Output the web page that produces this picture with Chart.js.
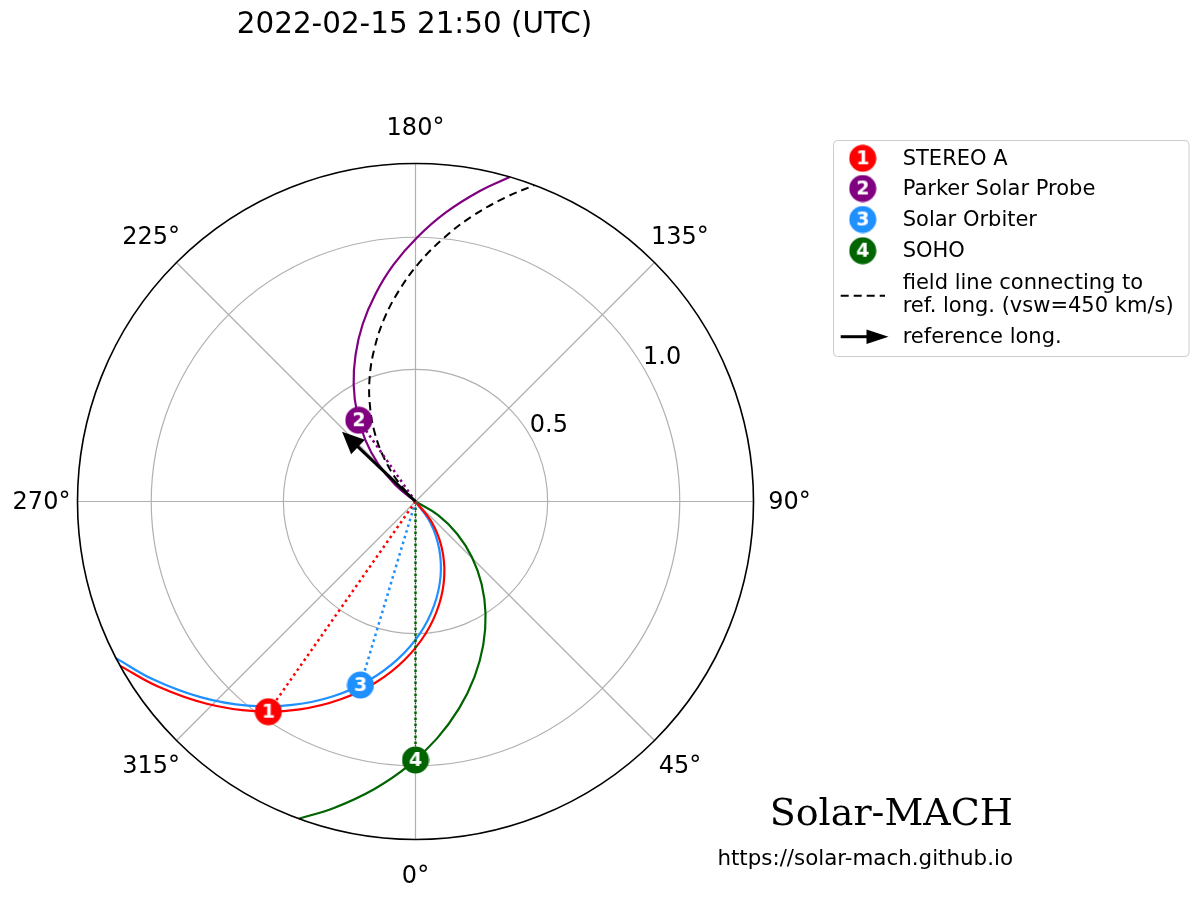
<!DOCTYPE html>
<html>
<head>
<meta charset="utf-8">
<script src="https://cdn.jsdelivr.net/npm/chart.js@4.4.1/dist/chart.umd.min.js"></script>
<style>
  html, body { margin: 0; padding: 0; background: #ffffff; }
  canvas { display: block; }
</style>
</head>
<body>
<canvas id="chart" width="1200" height="901"></canvas>
<script>
// ---------------- data ----------------
const titleText = '2022-02-15 21:50 (UTC)';
const spacecraftNames = ['STEREO A', 'Parker Solar Probe', 'Solar Orbiter', 'SOHO'];
const spacecraftNumbers = ['1', '2', '3', '4'];
const spacecraftRadius = [0.971, 0.375, 0.725, 0.978];       // AU
const spacecraftLongitude = [325.0, 214.9, 343.3, 0.0];      // deg

// sampled field lines: radius (AU) and longitude (deg) at each sample
const fieldLineRadius = [0, 0.1, 0.2, 0.3, 0.4, 0.5, 0.6, 0.7, 0.8, 0.9, 1.0, 1.1, 1.2, 1.279];
const stereoAFieldLine = [46.5, 38.1, 29.7, 21.3, 12.9, 4.5, -3.9, -12.3, -20.7, -29.1, -37.5, -45.9, -54.3, -60.9];
const pspFieldLine = [236.1, 230.5, 224.8, 219.2, 213.5, 207.9, 202.2, 196.6, 190.9, 185.3, 179.6, 174.0, 168.3, 163.8];
const solarOrbiterFieldLine = [43.1, 34.9, 26.6, 18.4, 10.1, 1.9, -6.4, -14.7, -22.9, -31.2, -39.4, -47.7, -55.9, -62.4];
const sohoFieldLine = [65.5, 58.8, 52.1, 45.4, 38.7, 32.0, 25.3, 18.6, 11.9, 5.2, -1.5, -8.2, -14.9, -20.2];
const referenceFieldLine = [226.5, 221.3, 216.0, 210.8, 205.5, 200.3, 195.0, 189.8, 184.5, 179.3, 174.0, 168.8, 163.5, 159.4];

const referenceLongitude = 226.5;
const referenceArrowLength = 0.383;

const rMax = 1.279;
const radialTicks = [0.5, 1.0];
const radialTickLabels = ['0.5', '1.0'];
const angleTicks = [0, 45, 90, 135, 180, 225, 270, 315];
const angleTickLabels = ['0°', '45°', '90°', '135°', '180°', '225°', '270°', '315°'];

const legendDashedText = ['field line connecting to', 'ref. long. (vsw=450 km/s)'];
const legendArrowText = 'reference long.';
const brandText = 'Solar-MACH';
const urlText = 'https://solar-mach.github.io';

// ---------------- styles ----------------
const scColors = ['#ff0000', '#800080', '#1e90ff', '#006400'];
const FONT = '"DejaVu Sans", "Liberation Sans", sans-serif';

// ---------------- helpers ----------------
function toXY(r, lonDeg) {
  const t = lonDeg * Math.PI / 180;
  return { x: r * Math.sin(t), y: -r * Math.cos(t) };
}
function polarPoints(radii, lons) {
  return radii.map((r, i) => toXY(r, lons[i]));
}
function makeMarker(color, label) {
  const c = document.createElement('canvas');
  c.width = 28; c.height = 28;
  const g = c.getContext('2d');
  g.fillStyle = color;
  g.beginPath(); g.arc(14, 14, 13.5, 0, 2 * Math.PI); g.fill();
  g.fillStyle = '#ffffff';
  g.font = 'bold 19px ' + FONT;
  g.textAlign = 'center';
  g.textBaseline = 'middle';
  g.fillText(label, 14, 15);
  return c;
}
const markerImages = spacecraftNumbers.map((n, i) => makeMarker(scColors[i], n));

// ---------------- datasets ----------------
const fieldLines = [stereoAFieldLine, pspFieldLine, solarOrbiterFieldLine, sohoFieldLine];
const datasets = [];

datasets.push({
  label: 'spacecraft',
  data: spacecraftNames.map((n, i) => toXY(spacecraftRadius[i], spacecraftLongitude[i])),
  pointStyle: markerImages,
  pointRadius: 13,
  showLine: false,
  order: 0
});

fieldLines.forEach((lons, i) => {
  datasets.push({
    label: spacecraftNames[i] + ' field line',
    data: polarPoints(fieldLineRadius, lons),
    showLine: true,
    borderColor: scColors[i],
    borderWidth: 2.2,
    pointRadius: 0,
    tension: 0.4,
    order: 3
  });
  datasets.push({
    label: spacecraftNames[i] + ' sun line',
    data: [toXY(0, 0), toXY(spacecraftRadius[i], spacecraftLongitude[i])],
    showLine: true,
    borderColor: scColors[i],
    borderWidth: 2.5,
    borderDash: [2.5, 3.5],
    pointRadius: 0,
    order: 2
  });
});

// thin black dotted overlay seen on the SOHO sun line
datasets.push({
  label: 'SOHO sun line overlay',
  data: [toXY(0, 0), toXY(spacecraftRadius[3], spacecraftLongitude[3])],
  showLine: true,
  borderColor: 'rgba(0,0,0,0.6)',
  borderWidth: 1.3,
  borderDash: [1.5, 4.5],
  borderDashOffset: 3,
  pointRadius: 0,
  order: 1
});

datasets.push({
  label: 'reference field line',
  data: polarPoints(fieldLineRadius, referenceFieldLine),
  showLine: true,
  borderColor: '#000000',
  borderWidth: 2,
  borderDash: [8, 5],
  pointRadius: 0,
  tension: 0.4,
  order: 4
});

const arrowHeadLen = 22 / 264.2;
datasets.push({
  label: 'reference long. shaft',
  data: [toXY(0, referenceLongitude), toXY(referenceArrowLength - arrowHeadLen * 0.8, referenceLongitude)],
  showLine: true,
  borderColor: '#000000',
  borderWidth: 3,
  pointRadius: 0,
  order: 1
});

// ---------------- plugin: polar frame, labels, legend ----------------
const polarPlugin = {
  id: 'polarFrame',
  beforeDatasetsDraw(chart) {
    const ctx = chart.ctx, xs = chart.scales.x, ys = chart.scales.y;
    const cx = xs.getPixelForValue(0), cy = ys.getPixelForValue(0);
    const pix = (r, a) => { const p = toXY(r, a); return { x: xs.getPixelForValue(p.x), y: ys.getPixelForValue(p.y) }; };
    ctx.save();
    ctx.fillStyle = '#ffffff';
    ctx.beginPath(); ctx.arc(cx, cy, xs.getPixelForValue(rMax) - cx, 0, 2 * Math.PI); ctx.fill();
    ctx.strokeStyle = '#b0b0b0';
    ctx.lineWidth = 1.2;
    radialTicks.forEach(r => {
      ctx.beginPath(); ctx.arc(cx, cy, xs.getPixelForValue(r) - cx, 0, 2 * Math.PI); ctx.stroke();
    });
    angleTicks.forEach(a => {
      const p = pix(rMax, a);
      ctx.beginPath(); ctx.moveTo(cx, cy); ctx.lineTo(p.x, p.y); ctx.stroke();
    });
    ctx.restore();
  },
  afterDatasetsDraw(chart) {
    const ctx = chart.ctx, xs = chart.scales.x, ys = chart.scales.y;
    const cx = xs.getPixelForValue(0), cy = ys.getPixelForValue(0);
    const rPx = xs.getPixelForValue(rMax) - cx;
    const pix = (r, a) => { const p = toXY(r, a); return { x: xs.getPixelForValue(p.x), y: ys.getPixelForValue(p.y) }; };
    ctx.save();
    // arrow head of reference longitude
    const tip = pix(referenceArrowLength, referenceLongitude);
    const t = referenceLongitude * Math.PI / 180;
    const dx = Math.sin(t), dy = Math.cos(t); // pixel direction outward (y down)
    const hl = 22, hw = 10;
    const bx = tip.x - dx * hl, by = tip.y - dy * hl;
    ctx.fillStyle = '#000000';
    ctx.beginPath();
    ctx.moveTo(tip.x, tip.y);
    ctx.lineTo(bx + (-dy) * hw, by + dx * hw);
    ctx.lineTo(bx - (-dy) * hw, by - dx * hw);
    ctx.closePath();
    ctx.fill();
    // outer frame
    ctx.strokeStyle = '#000000';
    ctx.lineWidth = 1.6;
    ctx.beginPath(); ctx.arc(cx, cy, rPx, 0, 2 * Math.PI); ctx.stroke();
    // angle labels
    ctx.fillStyle = '#000000';
    ctx.font = '24px ' + FONT;
    ctx.textAlign = 'center';
    ctx.textBaseline = 'middle';
    angleTicks.forEach((a, i) => {
      const rr = rPx + 36;
      const ta = a * Math.PI / 180;
      ctx.fillText(angleTickLabels[i], cx + rr * Math.sin(ta), cy + rr * Math.cos(ta) + 1);
    });
    // radial labels
    ctx.textAlign = 'left';
    ctx.textBaseline = 'alphabetic';
    radialTicks.forEach((r, i) => {
      const p = pix(r, 121);
      ctx.fillText(radialTickLabels[i], p.x + 1, p.y - 1);
    });
    ctx.restore();
  },
  afterDraw(chart) {
    const ctx = chart.ctx;
    ctx.save();
    // title
    ctx.fillStyle = '#000000';
    ctx.font = '29.4px ' + FONT;
    ctx.textAlign = 'center';
    ctx.textBaseline = 'alphabetic';
    ctx.fillText(titleText, 414.5, 32.5);

    // legend box
    const bx = 833.5, by = 140.5, bw = 355.5, bh = 216, rad = 4;
    ctx.fillStyle = 'rgba(255,255,255,0.8)';
    ctx.strokeStyle = '#cccccc';
    ctx.lineWidth = 1;
    ctx.beginPath();
    ctx.moveTo(bx + rad, by);
    ctx.lineTo(bx + bw - rad, by); ctx.arcTo(bx + bw, by, bx + bw, by + rad, rad);
    ctx.lineTo(bx + bw, by + bh - rad); ctx.arcTo(bx + bw, by + bh, bx + bw - rad, by + bh, rad);
    ctx.lineTo(bx + rad, by + bh); ctx.arcTo(bx, by + bh, bx, by + bh - rad, rad);
    ctx.lineTo(bx, by + rad); ctx.arcTo(bx, by, bx + rad, by, rad);
    ctx.closePath();
    ctx.fill(); ctx.stroke();

    const rowY = [158.3, 188.5, 219.5, 250.7];
    ctx.font = '21px ' + FONT;
    ctx.textAlign = 'left';
    ctx.textBaseline = 'middle';
    ctx.fillStyle = '#000000';
    spacecraftNames.forEach((n, i) => {
      ctx.drawImage(markerImages[i], 862.7 - 14, rowY[i] - 14);
      ctx.fillText(n, 902.7, rowY[i] + 1);
    });
    // dashed entry
    ctx.strokeStyle = '#000000';
    ctx.lineWidth = 2;
    ctx.setLineDash([8, 5]);
    ctx.beginPath(); ctx.moveTo(840.7, 295.7); ctx.lineTo(885, 295.7); ctx.stroke();
    ctx.setLineDash([]);
    ctx.fillText(legendDashedText[0], 902.7, 284);
    ctx.fillText(legendDashedText[1], 902.7, 306.5);
    // arrow entry
    ctx.lineWidth = 3;
    ctx.beginPath(); ctx.moveTo(840.7, 336.7); ctx.lineTo(868, 336.7); ctx.stroke();
    ctx.beginPath(); ctx.moveTo(888.5, 336.7); ctx.lineTo(866.5, 329.5); ctx.lineTo(866.5, 343.9); ctx.closePath(); ctx.fill();
    ctx.fillText(legendArrowText, 902.7, 337.5);

    // branding
    ctx.textAlign = 'right';
    ctx.textBaseline = 'alphabetic';
    ctx.font = '38px "DejaVu Serif", "Liberation Serif", serif';
    ctx.fillText(brandText, 1013, 825);
    ctx.font = '21.4px ' + FONT;
    ctx.fillText(urlText, 1013, 865);
    ctx.restore();
  }
};

new Chart(document.getElementById('chart'), {
  type: 'scatter',
  data: { datasets },
  options: {
    responsive: false,
    animation: false,
    devicePixelRatio: 1,
    layout: { padding: { left: 77.5, right: 446.5, top: 163.5, bottom: 61.5 } },
    scales: {
      x: { type: 'linear', min: -rMax, max: rMax, display: false },
      y: { type: 'linear', min: -rMax, max: rMax, display: false }
    },
    plugins: {
      legend: { display: false },
      tooltip: { enabled: false },
      title: { display: false }
    },
    elements: { line: { capBezierPoints: false } }
  },
  plugins: [polarPlugin]
});
</script>
</body>
</html>
